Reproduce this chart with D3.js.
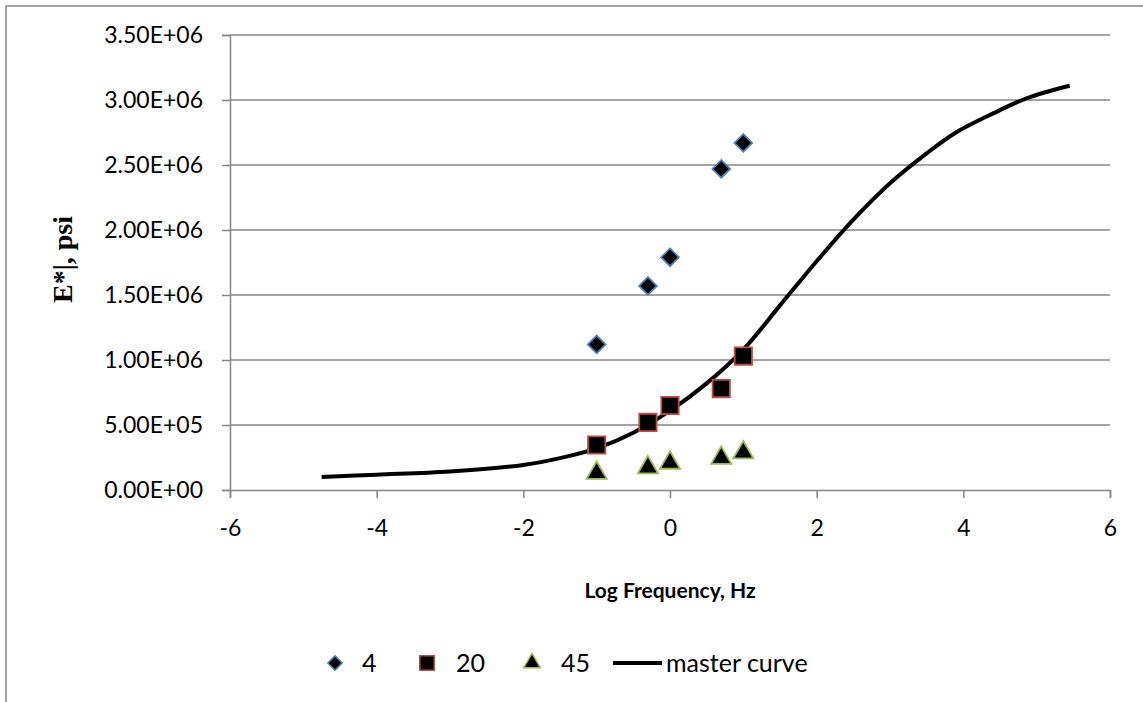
<!DOCTYPE html>
<html>
<head>
<meta charset="utf-8">
<script src="https://cdn.jsdelivr.net/npm/d3@7"></script>
<style>
  body { margin: 0; background: #fff; }
  svg { display: block; }
  .tick text { font-family: Lato, "Open Sans", sans-serif; font-size: 23px; fill: #000; }
</style>
</head>
<body>
<div id="chart"></div>
<script>
// log frequency values used by the measured series
var logFreq = [-1, -0.301, 0, 0.699, 1];

// |E*| measurements (psi) at each temperature
var e4  = [1120000, 1570000, 1790000, 2470000, 2670000];
var e20 = [346000, 520000, 650000, 780000, 1030000];
var e45 = [130000, 173000, 208000, 246000, 288000];

// master curve
var masterX = [-4.75, -4, -3, -2, -1.5, -1, -0.5, 0, 0.5, 1, 1.5, 2, 2.5, 3, 3.5, 3.9, 4.4, 4.87, 5.45];
var masterY = [100000, 118000, 143000, 193000, 245000, 320000, 440000, 610000, 820000, 1080000, 1420000, 1760000, 2080000, 2360000, 2590000, 2750000, 2895000, 3015000, 3110000];

var xTicks = [-6, -4, -2, 0, 2, 4, 6];
var yTicks = [0, 500000, 1000000, 1500000, 2000000, 2500000, 3000000, 3500000];

var legendNames = ["4", "20", "45", "master curve"];

var svgWidth = 1143;
var svgHeight = 702;

// plot area in page pixels
var margin = { top: 35, right: 33, bottom: 212, left: 230 };
var width = svgWidth - margin.left - margin.right;
var height = svgHeight - margin.top - margin.bottom;

var svg = d3.select("#chart")
  .append("svg")
  .attr("width", svgWidth)
  .attr("height", svgHeight);

// outer chart border (only top and left are visible)
svg.append("path")
  .attr("d", "M6,702 L6,6 L1143,6")
  .attr("fill", "none")
  .attr("stroke", "#868686")
  .attr("stroke-width", 1.5);

var chartGroup = svg.append("g")
  .attr("transform", `translate(${margin.left}, ${margin.top})`);

var xScale = d3.scaleLinear().domain([-6, 6]).range([0, width]);
var yScale = d3.scaleLinear().domain([0, 3500000]).range([height, 0]);

// gridlines
chartGroup.selectAll(".grid")
  .data(yTicks.slice(1))
  .enter()
  .append("line")
  .attr("x1", 0)
  .attr("x2", width)
  .attr("y1", d => yScale(d))
  .attr("y2", d => yScale(d))
  .attr("stroke", "#868686")
  .attr("stroke-width", 1.5);

// y axis
var leftAxis = d3.axisLeft(yScale)
  .tickValues(yTicks)
  .tickSize(8)
  .tickPadding(19)
  .tickFormat(d => {
    var s = d.toExponential(2).toUpperCase();
    return s.replace(/E([+-])(\d)$/, "E$10$2");
  });

var yAxis = chartGroup.append("g").call(leftAxis);

// x axis
var bottomAxis = d3.axisBottom(xScale)
  .tickValues(xTicks)
  .tickSize(8)
  .tickPadding(22)
  .tickFormat(d3.format("d"));

var xAxis = chartGroup.append("g")
  .attr("transform", `translate(0, ${height})`)
  .call(bottomAxis);

[yAxis, xAxis].forEach(function(ax) {
  ax.select(".domain").attr("stroke", "#868686").attr("stroke-width", 1.5);
  ax.selectAll(".tick line").attr("stroke", "#868686").attr("stroke-width", 1.5);
});
// keep the minus as a plain hyphen like the original
xAxis.selectAll(".tick text").text(d => String(d));

// master curve
var line = d3.line()
  .x(d => xScale(d[0]))
  .y(d => yScale(d[1]))
  .curve(d3.curveCatmullRom.alpha(0.5));

chartGroup.append("path")
  .datum(masterX.map((x, i) => [x, masterY[i]]))
  .attr("d", line)
  .attr("fill", "none")
  .attr("stroke", "#000")
  .attr("stroke-width", 4);

// marker shapes
var diamond = d3.symbol().type(d3.symbolDiamond2);
var square = d3.symbol().type(d3.symbolSquare);
var triangle = d3.symbol().type(d3.symbolTriangle);

function drawSeries(values, sym, size, stroke) {
  chartGroup.append("g")
    .selectAll("path")
    .data(values)
    .enter()
    .append("path")
    .attr("transform", (d, i) => `translate(${xScale(logFreq[i])}, ${yScale(d)})`)
    .attr("d", sym.size(size)())
    .attr("fill", "#000")
    .attr("stroke", stroke)
    .attr("stroke-width", 1.8);
}

drawSeries(e4, diamond, 200, "#4a7ebb");
drawSeries(e20, square, 300, "#be4b48");
drawSeries(e45, triangle, 175, "#98b954");

// axis titles
svg.append("text")
  .attr("x", margin.left + xScale(0))
  .attr("y", 598)
  .attr("text-anchor", "middle")
  .attr("font-family", "Lato, 'Open Sans', sans-serif")
  .attr("font-weight", "bold")
  .attr("font-size", 21)
  .text("Log Frequency, Hz");

svg.append("text")
  .attr("transform", `translate(72, ${margin.top + height / 2 - 3}) rotate(-90)`)
  .attr("text-anchor", "middle")
  .attr("font-family", "'Liberation Serif', 'Times New Roman', serif")
  .attr("font-weight", "bold")
  .attr("font-size", 28)
  .text("E*|, psi");

// legend
var legend = svg.append("g").attr("transform", "translate(0, 663)");
var legendItems = [
  { x: 335, sym: diamond, size: 130, stroke: "#4a7ebb", tx: 362 },
  { x: 427, sym: square, size: 210, stroke: "#be4b48", tx: 456 },
  { x: 532, sym: triangle, size: 120, stroke: "#98b954", tx: 561 }
];
legendItems.forEach(function(item, i) {
  legend.append("path")
    .attr("transform", `translate(${item.x}, 0)`)
    .attr("d", item.sym.size(item.size)())
    .attr("fill", "#000")
    .attr("stroke", item.stroke)
    .attr("stroke-width", 1.5);
  legend.append("text")
    .attr("x", item.tx)
    .attr("y", 9)
    .attr("font-family", "Lato, 'Open Sans', sans-serif")
    .attr("font-size", 25)
    .text(legendNames[i]);
});
legend.append("line")
  .attr("x1", 613)
  .attr("x2", 662)
  .attr("y1", 0)
  .attr("y2", 0)
  .attr("stroke", "#000")
  .attr("stroke-width", 4);
legend.append("text")
  .attr("x", 666)
  .attr("y", 9)
  .attr("font-family", "Lato, 'Open Sans', sans-serif")
  .attr("font-size", 25)
  .text(legendNames[3]);
</script>
</body>
</html>
